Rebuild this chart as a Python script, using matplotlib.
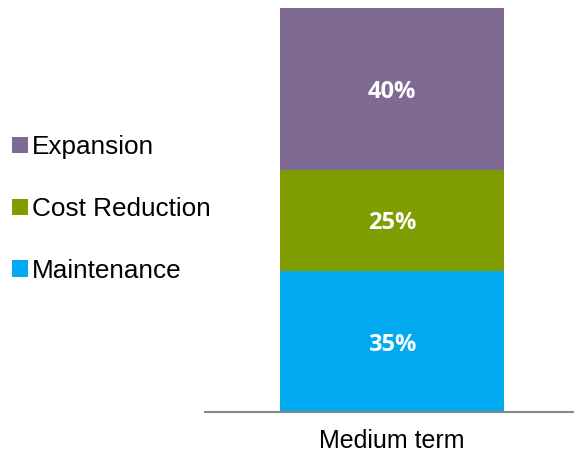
import matplotlib
matplotlib.use("Agg")
import matplotlib.pyplot as plt

categories = ["Medium term"]
series_names = ["Maintenance", "Cost Reduction", "Expansion"]
maintenance = [35]
cost_reduction = [25]
expansion = [40]
colors = ["#00A9F0", "#7F9D00", "#7F6A93"]

plt.rcParams['font.family'] = ['Liberation Sans', 'DejaVu Sans']

fig = plt.figure(figsize=(5.74, 4.53), dpi=100)
ax = fig.add_axes([205/574, 1-412/453, 369/574, 404/453])

values = [maintenance, cost_reduction, expansion]
x = list(range(len(categories)))
bottom = [0]*len(categories)
bars = []
for name, vals, c in zip(series_names, values, colors):
    b = ax.bar(x, vals, bottom=bottom, width=0.607, color=c, label=name)
    bars.append(b)
    for xi, v, bt in zip(x, vals, bottom):
        ax.text(xi, bt + v/2 - 0.8, f"{v}%", ha='center', va='center', color='white',
                fontsize=17, fontweight='bold', family=['Open Sans', 'DejaVu Sans'])
    bottom = [bt + v for bt, v in zip(bottom, vals)]

ax.set_xlim(-0.507, 0.493)
ax.set_ylim(0, 100)
ax.set_xticks(x)
ax.set_xticklabels(categories, fontsize=18)
ax.tick_params(axis='x', length=0, pad=12)
ax.set_yticks([])
for s in ['left', 'right', 'top']:
    ax.spines[s].set_visible(False)
ax.spines['bottom'].set_color('#888888')
ax.spines['bottom'].set_linewidth(1.5)

handles = [bars[2], bars[1], bars[0]]
labels = [series_names[2], series_names[1], series_names[0]]
fig.legend(handles, labels, loc='center left', bbox_to_anchor=(12/574, 1-209/453),
           frameon=False, fontsize=18.8, handlelength=0.6, handleheight=0.6,
           handletextpad=0.18, labelspacing=1.45, borderaxespad=0, borderpad=0)

fig.savefig("out.png", dpi=100)
